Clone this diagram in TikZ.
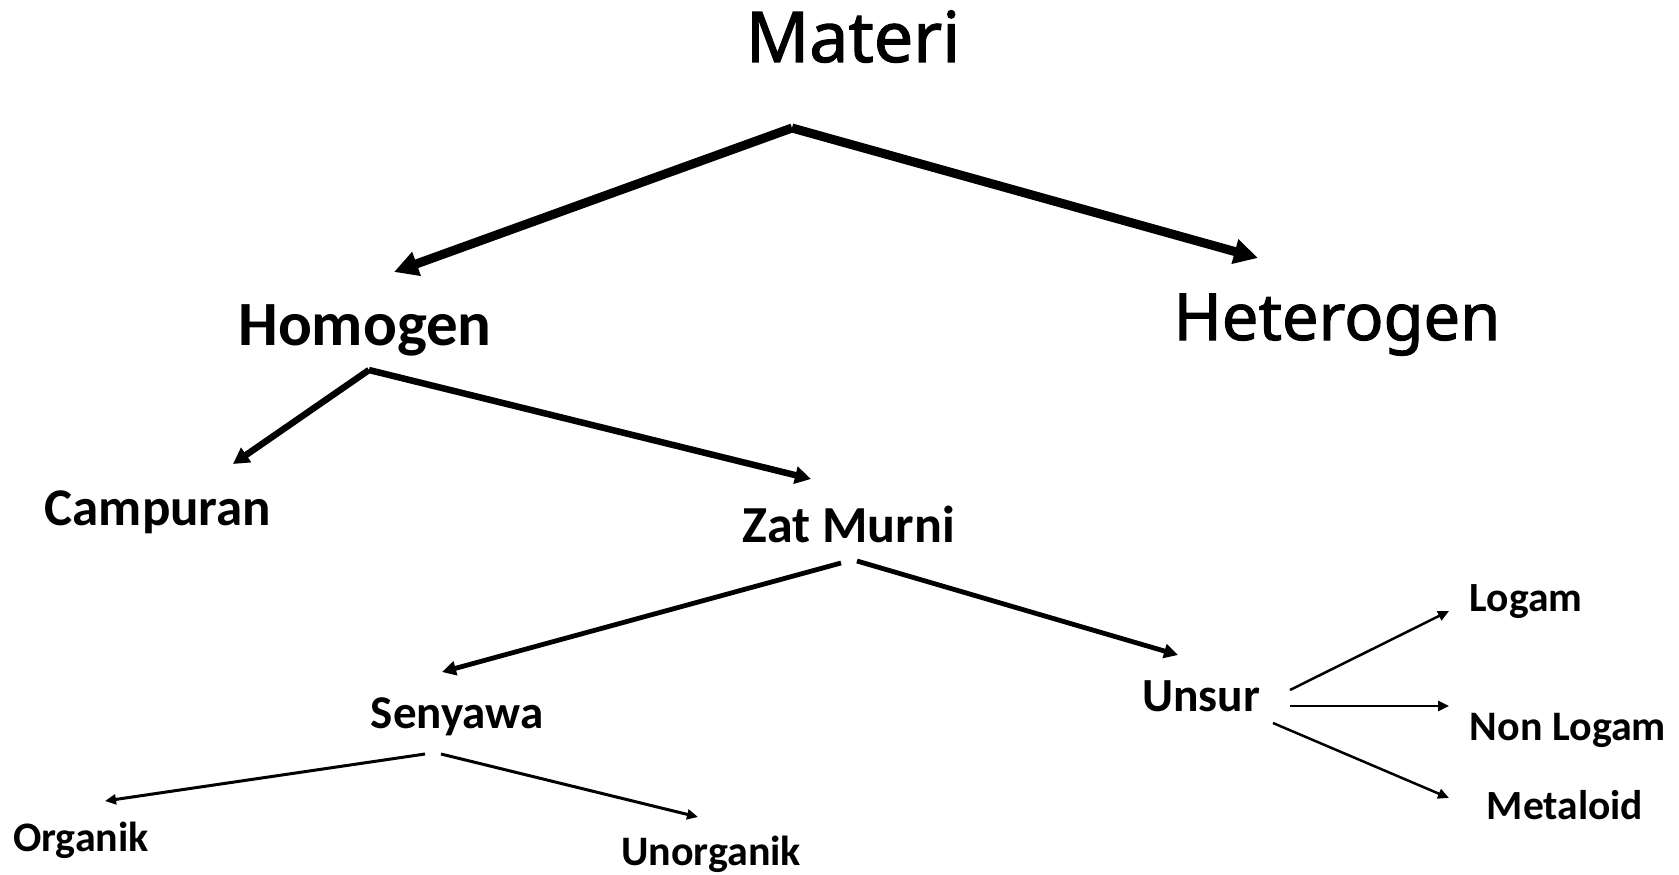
\documentclass[tikz,border=0pt]{standalone}
\usepackage{fontspec}
\newfontfamily\calib{Carlito}
\newfontfamily\osans[FakeBold=1.6]{Noto Sans}
\usetikzlibrary{arrows.meta}
\begin{document}
\begin{tikzpicture}[x=1pt,y=-1pt,
  bigtxt/.style={font=\osans\fontsize{70}{80}\selectfont, anchor=base, inner sep=0pt},
  lbl/.style={font=\calib\bfseries\fontsize{#1}{#1}\selectfont, anchor=base, inner sep=0pt},
  a1/.style={line width=9pt, -{Triangle[length=24pt,width=24pt]}},
  a2/.style={line width=6.5pt, -{Triangle[length=16pt,width=17pt]}},
  a3/.style={line width=4.8pt, -{Triangle[length=14pt,width=14pt]}},
  a4/.style={line width=3pt, -{Triangle[length=11pt,width=10pt]}},
  a5/.style={line width=2.5pt, -{Triangle[length=11pt,width=10pt]}}
]
\useasboundingbox (0,0) rectangle (1679,875);
% texts
\node[bigtxt] (materi) at (853,62) {Materi};
\node[bigtxt, font=\osans\fontsize{65}{75}\selectfont] (hetero) at (1337,340) {Heterogen};
\node[lbl=63] (homo) at (365,345) {Homogen};
\node[lbl=53] (camp) at (158,525) {Campuran};
\node[lbl=52] (zat) at (849,542) {Zat Murni};
\node[lbl=47] (seny) at (457,728) {Senyawa};
\node[lbl=47.5] (unsur) at (1201,711) {Unsur};
\node[lbl=42] (org) at (81,851) {Organik};
\node[lbl=42] (unorg) at (711,865) {Unorganik};
\node[lbl=41.5] (logam) at (1526,611) {Logam};
\node[lbl=42] (nonlog) at (1568,740) {Non Logam};
\node[lbl=41.5] (meta) at (1565,819) {Metaloid};
% connector points
\coordinate (pM) at (792,128);
\coordinate (tHo) at (394,272);
\coordinate (tHe) at (1258,258);
\coordinate (pH) at (369,370);
\coordinate (tC) at (233,464);
\coordinate (tZ) at (811,479);
\coordinate (pZl) at (841,563);
\coordinate (pZr) at (857,561);
\coordinate (tS) at (442,672);
\coordinate (tU) at (1178,655);
\coordinate (pSl) at (425,754);
\coordinate (pSr) at (441,754);
\coordinate (tO) at (105,801);
\coordinate (tUn) at (698,817);
\coordinate (pU1) at (1290,690);
\coordinate (pU2) at (1290,706);
\coordinate (pU3) at (1273,723);
\coordinate (tL) at (1449,611);
\coordinate (tN) at (1449,706);
\coordinate (tMe) at (1449,798);
% connectors
\draw[a1] (pM) -- (tHo);
\draw[a1] (pM) -- (tHe);
\draw[a2] (pH) -- (tC);
\draw[a2] (pH) -- (tZ);
\draw[a3] (pZl) -- (tS);
\draw[a3] (pZr) -- (tU);
\draw[a4] (pSl) -- (tO);
\draw[a4] (pSr) -- (tUn);
\draw[a5] (pU1) -- (tL);
\draw[a5] (pU2) -- (tN);
\draw[a5] (pU3) -- (tMe);
\end{tikzpicture}
\end{document}
